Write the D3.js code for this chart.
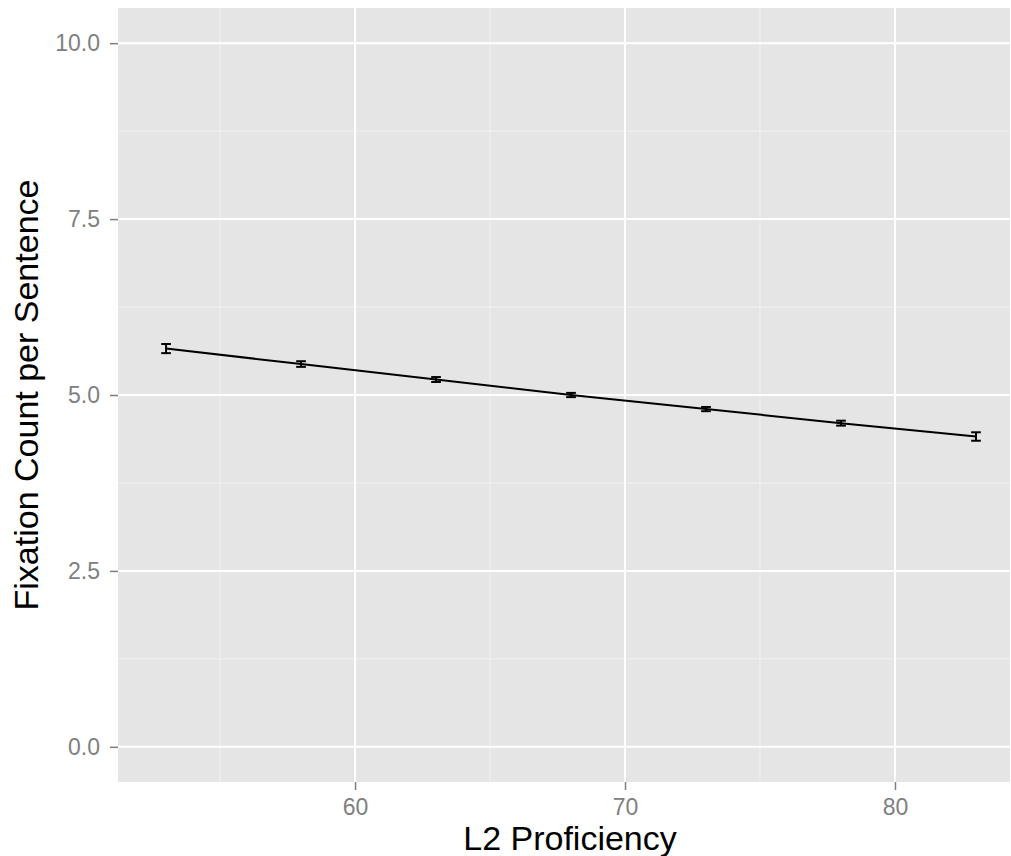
<!DOCTYPE html>
<html><head><meta charset="utf-8">
<script src="https://cdn.jsdelivr.net/npm/d3@7"></script>
<style>body{margin:0;background:#fff;}svg{display:block;font-family:"Liberation Sans",Arial,sans-serif;}</style>
</head><body>
<svg id="c" width="1011" height="856"></svg>
<script>
const proficiency = [53, 58, 63, 68, 73, 78, 83];
const fixations = [5.66, 5.44, 5.22, 5.00, 4.80, 4.60, 4.41];
const errors = [0.065, 0.04, 0.035, 0.03, 0.03, 0.035, 0.06];
const xTicks = [60, 70, 80];
const xMinor = [55, 65, 75];
const yTicks = [0, 2.5, 5, 7.5, 10];
const yMinor = [1.25, 3.75, 6.25, 8.75];
const xTitle = "L2 Proficiency";
const yTitle = "Fixation Count per Sentence";

const svg = d3.select("#c");
const L = 118, R = 1010, T = 8, B = 782;
const x = d3.scaleLinear().domain([51.22, 84.26]).range([L, R]);
const y = d3.scaleLinear().domain([-0.5, 10.5]).range([B, T]);

svg.append("rect").attr("x", L).attr("y", T).attr("width", R - L).attr("height", B - T).attr("fill", "#e5e5e5");
const g = svg.append("g");
g.selectAll(".ymn").data(yMinor).join("line").attr("x1", L).attr("x2", R).attr("y1", d => y(d)).attr("y2", d => y(d)).attr("stroke", "#f2f2f2").attr("stroke-width", 1);
g.selectAll(".xmn").data(xMinor).join("line").attr("y1", T).attr("y2", B).attr("x1", d => x(d)).attr("x2", d => x(d)).attr("stroke", "#f2f2f2").attr("stroke-width", 1);
g.selectAll(".ymj").data(yTicks).join("line").attr("x1", L).attr("x2", R).attr("y1", d => y(d)).attr("y2", d => y(d)).attr("stroke", "#fff").attr("stroke-width", 2);
g.selectAll(".xmj").data(xTicks).join("line").attr("y1", T).attr("y2", B).attr("x1", d => x(d)).attr("x2", d => x(d)).attr("stroke", "#fff").attr("stroke-width", 2);

// axes
const ax = svg.append("g").attr("transform", `translate(0,${B})`)
  .call(d3.axisBottom(x).tickValues(xTicks).tickSize(8).tickPadding(9).tickFormat(d3.format("d")));
const ay = svg.append("g").attr("transform", `translate(${L},0)`)
  .call(d3.axisLeft(y).tickValues(yTicks).tickSize(8).tickPadding(10).tickFormat(d3.format(".1f")));
[ax, ay].forEach(a => {
  a.select(".domain").remove();
  a.selectAll(".tick line").attr("stroke", "#7f7f7f").attr("stroke-width", 1.5);
  a.selectAll(".tick text").attr("fill", "#808080").attr("font-size", 23).attr("font-family", "Liberation Sans, Arial, sans-serif");
});

const data = proficiency.map((p, i) => ({p, v: fixations[i], e: errors[i]}));
svg.append("path").datum(data)
  .attr("d", d3.line().x(d => x(d.p)).y(d => y(d.v)))
  .attr("fill", "none").attr("stroke", "#000").attr("stroke-width", 2);
const eb = svg.append("g").attr("stroke", "#000").attr("stroke-width", 2);
data.forEach(d => {
  eb.append("line").attr("x1", x(d.p)).attr("x2", x(d.p)).attr("y1", y(d.v - d.e)).attr("y2", y(d.v + d.e));
  eb.append("line").attr("x1", x(d.p - 0.18)).attr("x2", x(d.p + 0.18)).attr("y1", y(d.v - d.e)).attr("y2", y(d.v - d.e));
  eb.append("line").attr("x1", x(d.p - 0.18)).attr("x2", x(d.p + 0.18)).attr("y1", y(d.v + d.e)).attr("y2", y(d.v + d.e));
});

svg.append("text").attr("x", (L + R) / 2 + 6).attr("y", 850).attr("text-anchor", "middle").attr("font-size", 34).attr("fill", "#000").text(xTitle);
svg.append("text").attr("transform", `translate(38,${(T + B) / 2}) rotate(-90)`).attr("text-anchor", "middle").attr("font-size", 34).attr("fill", "#000").text(yTitle);
</script>
</body></html>
